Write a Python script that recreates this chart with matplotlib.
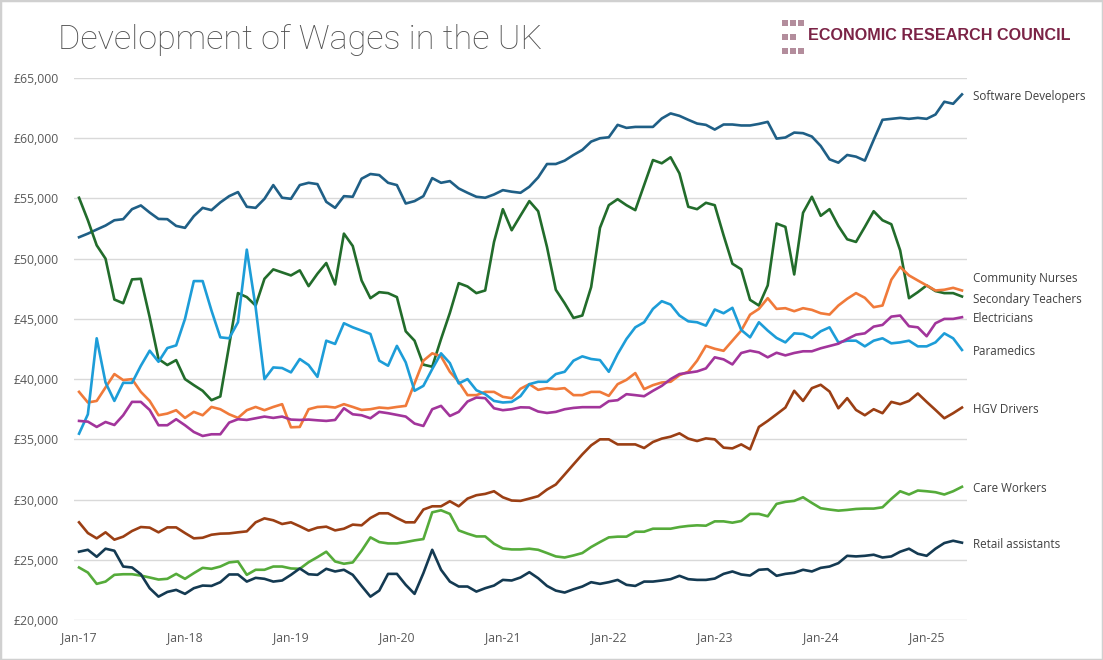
import numpy as np
import pandas as pd
import matplotlib
import matplotlib.pyplot as plt
from matplotlib.patches import Rectangle
from matplotlib.ticker import FuncFormatter

matplotlib.use('Agg')

# monthly series, Jan-2017 .. May-2025
months = pd.date_range('2017-01-01', periods=101, freq='MS')

software_developers = [
    51780, 52080, 52420, 52750, 53190, 53280, 54110, 54420, 53830, 53300, 53280, 52720,
    52560, 53530, 54220, 54030, 54670, 55190, 55530, 54310, 54220, 54970, 56110, 55060,
    54970, 56110, 56300, 56190, 54720, 54220, 55190, 55140, 56640, 57030, 56940, 56300,
    56110, 54580, 54780, 55190, 56690, 56300, 56440, 55830, 55470, 55140, 55060, 55330,
    55690, 55560, 55470, 55970, 56750, 57860, 57860, 58140, 58610, 59030, 59720, 60000,
    60080, 61110, 60860, 60940, 60940, 60940, 61640, 62060, 61860, 61530, 61220, 61110,
    60720, 61140, 61140, 61060, 61060, 61190, 61360, 59970, 60060, 60470, 60420, 60140,
    59360, 58250, 57970, 58610, 58470, 58140, 59860, 61530, 61610, 61690, 61610, 61690,
    61610, 61970, 63030, 62860, 63640]
secondary_teachers = [
    55060, 53190, 51110, 50000, 46610, 46300, 48280, 48330, 45140, 41670, 41170, 41580,
    40000, 39500, 39030, 38250, 38560, 42800, 47140, 46810, 46110, 48330, 49110, 48860,
    48610, 49030, 47720, 48750, 49640, 47860, 52080, 51050, 48190, 46720, 47220, 47140,
    46810, 43970, 43190, 41200, 41030, 43330, 45500, 47970, 47690, 47140, 47360, 51390,
    54110, 52360, 53580, 54780, 53940, 50970, 47420, 46300, 45080, 45280, 47640, 52560,
    54440, 54940, 54440, 54030, 56110, 58190, 57920, 58420, 57080, 54310, 54110, 54640,
    54440, 51940, 49580, 49120, 46580, 46110, 47780, 52920, 52640, 48690, 53810, 55140,
    53560, 54110, 52720, 51610, 51390, 52640, 53940, 53190, 52860, 50690, 46720, 47220,
    47780, 47310, 47140, 47140, 46860]
community_nurses = [
    38940, 38060, 38190, 39310, 40420, 39920, 40000, 38940, 38190, 37000, 37140, 37420,
    36780, 37280, 37000, 37690, 37500, 37080, 36780, 37420, 37690, 37420, 37690, 37920,
    36000, 36030, 37500, 37690, 37720, 37640, 37920, 37690, 37440, 37500, 37640, 37580,
    37690, 37780, 39650, 41530, 42140, 41890, 40610, 39780, 38670, 38670, 38940, 38940,
    38530, 38420, 39200, 39580, 39110, 39250, 39170, 39250, 38670, 38670, 38940, 38940,
    38610, 39580, 39940, 40500, 39170, 39500, 39720, 39780, 40330, 40610, 41530, 42760,
    42520, 42350, 43190, 44030, 45350, 45830, 46720, 45830, 45890, 45640, 45890, 45750,
    45470, 45360, 46110, 46670, 47140, 46750, 45970, 46110, 48250, 49310, 48610, 48190,
    47780, 47360, 47420, 47580, 47360]
electricians = [
    36530, 36470, 36030, 36440, 36190, 37000, 38110, 38110, 37440, 36170, 36170, 36670,
    36170, 35610, 35280, 35420, 35420, 36390, 36670, 36610, 36750, 36890, 36780, 36890,
    36640, 36610, 36640, 36580, 36530, 36610, 37580, 37080, 37000, 36750, 37280, 37170,
    37030, 36890, 36310, 36110, 37500, 37780, 36940, 37280, 38140, 38470, 38420, 37580,
    37420, 37500, 37660, 37640, 37310, 37190, 37280, 37500, 37610, 37670, 37670, 37670,
    38170, 38250, 38750, 38670, 38580, 39030, 39440, 40000, 40420, 40530, 40640, 40890,
    41810, 41640, 41220, 42170, 42360, 42220, 41810, 42190, 41970, 42170, 42310, 42310,
    42560, 42750, 42940, 43330, 43690, 43800, 44360, 44500, 45190, 45280, 44390, 44300,
    43560, 44640, 45000, 45000, 45140]
paramedics = [
    35470, 37080, 43390, 39720, 38190, 39690, 39690, 41110, 42360, 41440, 42580, 42800,
    45000, 48140, 48140, 45690, 43470, 43390, 44720, 50750, 45970, 40000, 40970, 40920,
    40560, 41670, 41170, 40190, 43190, 42920, 44640, 44300, 44030, 43750, 41530, 41110,
    42760, 41390, 39030, 39440, 40830, 42140, 41330, 39640, 40000, 39080, 38750, 38190,
    38060, 38110, 38590, 39580, 39780, 39780, 40420, 40610, 41530, 41890, 41670, 41580,
    40610, 42080, 43330, 44300, 44720, 45830, 46470, 46190, 45280, 44800, 44720, 44440,
    45780, 45470, 45920, 44080, 43470, 44720, 44030, 43420, 43050, 43800, 43750, 43420,
    43970, 44300, 43050, 43190, 43190, 42720, 43190, 43390, 42970, 43050, 43190, 42720,
    42720, 43050, 43800, 43390, 42420]
hgv_drivers = [
    28110, 27220, 26780, 27280, 26670, 26920, 27390, 27720, 27670, 27280, 27690, 27690,
    27220, 26780, 26830, 27080, 27170, 27190, 27280, 27360, 28110, 28440, 28280, 27970,
    28110, 27780, 27420, 27670, 27750, 27440, 27580, 27920, 27860, 28470, 28860, 28860,
    28470, 28110, 28110, 29170, 29440, 29440, 29860, 29440, 30080, 30360, 30470, 30690,
    30190, 29920, 29890, 30080, 30280, 30830, 31250, 32080, 32920, 33750, 34500, 35000,
    35000, 34580, 34580, 34580, 34280, 34780, 35060, 35220, 35500, 35060, 34860, 35080,
    35000, 34310, 34250, 34580, 34170, 36030, 36530, 37080, 37640, 39030, 38190, 39250,
    39530, 38970, 37580, 38420, 37440, 37000, 37500, 37170, 38110, 37920, 38190, 38810,
    38110, 37440, 36750, 37170, 37640]
care_workers = [
    24360, 23940, 23000, 23190, 23750, 23800, 23800, 23690, 23530, 23360, 23420, 23830,
    23420, 23890, 24330, 24250, 24440, 24780, 24860, 23750, 24170, 24170, 24440, 24440,
    24280, 24250, 24800, 25220, 25670, 24860, 24670, 24780, 25750, 26860, 26470, 26360,
    26360, 26470, 26610, 26720, 28940, 29110, 28810, 27440, 27170, 26940, 26940, 26330,
    25940, 25860, 25860, 25920, 25830, 25560, 25280, 25190, 25360, 25560, 26060, 26470,
    26860, 26920, 26920, 27330, 27330, 27580, 27580, 27580, 27720, 27810, 27860, 27830,
    28190, 28190, 28080, 28220, 28810, 28810, 28610, 29640, 29810, 29890, 30190, 29720,
    29280, 29170, 29080, 29140, 29220, 29250, 29250, 29360, 30060, 30690, 30420, 30750,
    30690, 30610, 30420, 30690, 31060]
retail_assistants = [
    25670, 25830, 25250, 25920, 25750, 24440, 24360, 23800, 22640, 21940, 22330, 22500,
    22170, 22640, 22860, 22830, 23140, 23780, 23780, 23190, 23500, 23420, 23190, 23280,
    23750, 24280, 23800, 23750, 24250, 24030, 24170, 23750, 22830, 21940, 22440, 23830,
    23830, 22920, 22170, 23890, 25830, 24170, 23190, 22780, 22780, 22360, 22640, 22860,
    23330, 23280, 23530, 23970, 23470, 22830, 22440, 22280, 22550, 22780, 23140, 23000,
    23140, 23330, 22920, 22830, 23190, 23190, 23280, 23390, 23670, 23390, 23330, 23330,
    23440, 23830, 24030, 23780, 23690, 24170, 24220, 23670, 23830, 23920, 24170, 24030,
    24330, 24440, 24720, 25330, 25280, 25330, 25420, 25190, 25280, 25670, 25920, 25500,
    25330, 25920, 26390, 26580, 26420]

series = [
    ('Software Developers', software_developers, '#1f5f86'),
    ('Secondary Teachers', secondary_teachers, '#226c2b'),
    ('Community Nurses', community_nurses, '#f07a3a'),
    ('Paramedics', paramedics, '#1d9dd8'),
    ('Electricians', electricians, '#a2359b'),
    ('HGV Drivers', hgv_drivers, '#9b3f14'),
    ('Care Workers', care_workers, '#55ab3a'),
    ('Retail assistants', retail_assistants, '#143a52'),
]
# small vertical nudges (in £) so end labels do not collide
label_nudge = {'Community Nurses': 1150, 'Secondary Teachers': -80}

fig = plt.figure(figsize=(11.03, 6.6), dpi=100)
ax = fig.add_axes([0.0671, 0.0606, 0.8096, 0.8212])

x = np.arange(len(months))
for name, vals, color in series:
    ax.plot(x, vals, color=color, lw=1.9, solid_joinstyle='round')
    y_lab = vals[-1] + label_nudge.get(name, 0)
    ax.annotate(name, xy=(x[-1], y_lab), xytext=(8, -1.2), textcoords='offset points',
                va='center', ha='left', fontsize=8.4, color='#404040',
                family='Open Sans', annotation_clip=False)

ax.set_xlim(-0.57, len(months) - 1 + 0.57)
ax.set_ylim(20000, 65000)
ax.set_yticks(np.arange(20000, 65001, 5000))
ax.yaxis.set_major_formatter(FuncFormatter(lambda v, p: f'£{v:,.0f}'))
tick_pos = x[::12]
ax.set_xticks(tick_pos)
ax.set_xticklabels([m.strftime('%b-%y') for m in months[::12]])
ax.grid(axis='y', color='#d9d9d9', lw=1)
ax.set_axisbelow(True)
for s in ax.spines.values():
    s.set_visible(False)
ax.tick_params(length=0, labelsize=8.8, labelcolor='#595959')
ax.tick_params(axis='y', pad=11)
ax.tick_params(axis='x', pad=8)
for lab in ax.get_xticklabels() + ax.get_yticklabels():
    lab.set_family('Open Sans')

fig.text(0.0525, 1 - 49 / 660, 'Development of Wages in the UK', fontsize=24.6,
         family='Roboto', fontweight='light', color='#505050', va='baseline')

# logo
sq = 6 / 1103
sqh = 6 / 660
for row, ncols in enumerate([3, 2, 3]):
    for c in range(ncols):
        fig.patches.append(Rectangle((782 / 1103 + c * 8 / 1103, 1 - (26 + row * 14) / 660),
                                     sq, sqh, transform=fig.transFigure,
                                     color='#b38d9c', lw=0))
fig.text(808 / 1103, 1 - 40.5 / 660, 'ECONOMIC RESEARCH COUNCIL', fontsize=11.6,
         family='Liberation Sans', fontweight='bold', color='#7b2346', va='baseline')

fig.patches.append(Rectangle((0, 0), 1, 1, transform=fig.transFigure, fill=False,
                             edgecolor='#d0d0d0', lw=2.5))

fig.savefig('out.png', dpi=100)
